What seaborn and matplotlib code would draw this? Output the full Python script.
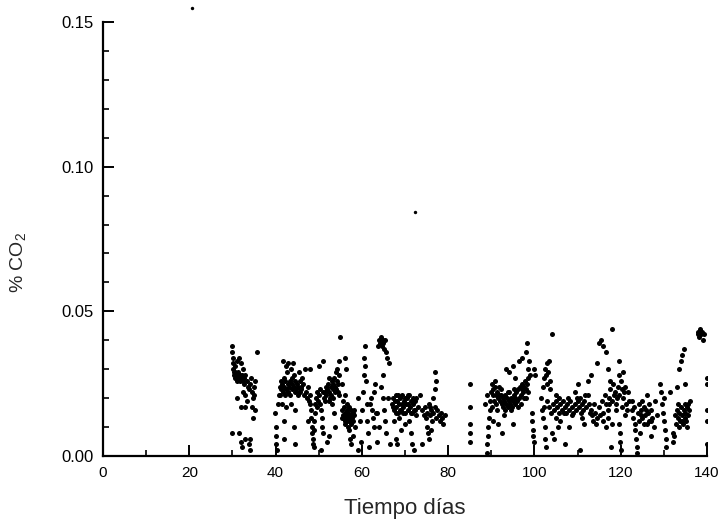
import matplotlib
matplotlib.use("Agg")
import matplotlib.pyplot as plt
from matplotlib.ticker import MultipleLocator, FormatStrFormatter
import seaborn as sns
import pandas as pd

# ---- data: (day, % CO2) ----
period_a = [(29.9, 0.038), (30.0, 0.036), (30.1, 0.034), (30.2, 0.032), (30.3, 0.029),
            (30.4, 0.028), (30.5, 0.027), (30.6, 0.028), (30.7, 0.029), (30.8, 0.027),
            (30.9, 0.028), (31.0, 0.027), (31.1, 0.026), (31.2, 0.028), (31.3, 0.027),
            (31.4, 0.029), (31.5, 0.028), (31.6, 0.027), (31.7, 0.026), (31.8, 0.028),
            (32.0, 0.027), (32.2, 0.028), (32.4, 0.026), (32.6, 0.027), (32.8, 0.025),
            (30.5, 0.031), (31.0, 0.033), (31.5, 0.034), (32.0, 0.032), (32.5, 0.030),
            (33.0, 0.028), (33.3, 0.026), (33.5, 0.024), (33.8, 0.023), (34.0, 0.025),
            (34.3, 0.027), (34.5, 0.022), (34.8, 0.020), (35.0, 0.024), (35.2, 0.026),
            (35.6, 0.036), (32.5, 0.022), (33.0, 0.021), (32.0, 0.017), (33.0, 0.017),
            (34.5, 0.017), (35.3, 0.016), (29.8, 0.008), (31.5, 0.008), (32.0, 0.005),
            (32.2, 0.003), (33.0, 0.006), (33.8, 0.004), (34.0, 0.002), (34.1, 0.006),
            (31.0, 0.020), (33.4, 0.019), (34.7, 0.013), (35.0, 0.021), (30.2, 0.030)]

period_b = [(39.8, 0.015), (40.0, 0.010), (40.2, 0.007), (40.1, 0.004), (40.3, 0.002),
            (40.5, 0.018), (40.8, 0.021), (41.0, 0.024), (41.2, 0.026), (41.3, 0.023),
            (41.5, 0.025), (41.7, 0.022), (41.9, 0.027), (42.0, 0.024), (42.2, 0.026),
            (42.4, 0.023), (42.5, 0.031), (42.7, 0.029), (42.9, 0.025), (43.0, 0.022),
            (43.2, 0.024), (43.4, 0.026), (43.5, 0.030), (43.7, 0.023), (43.9, 0.025),
            (44.0, 0.032), (44.2, 0.024), (44.4, 0.022), (44.6, 0.026), (44.8, 0.023),
            (45.0, 0.025), (45.2, 0.024), (45.4, 0.022), (45.6, 0.026), (45.8, 0.024),
            (46.0, 0.023), (46.3, 0.025), (46.5, 0.021), (41.5, 0.018), (42.5, 0.017),
            (43.5, 0.018), (44.5, 0.016), (41.8, 0.033), (43.0, 0.032), (45.5, 0.029),
            (46.8, 0.030), (42.0, 0.012), (44.2, 0.010), (44.4, 0.004), (42.0, 0.006),
            (41.1, 0.021), (41.6, 0.023), (42.1, 0.021), (42.8, 0.022), (43.3, 0.021),
            (43.8, 0.027), (44.3, 0.028), (45.1, 0.021), (45.7, 0.022), (46.2, 0.027)]

period_c = [(47.0, 0.022), (47.3, 0.020), (47.5, 0.024), (47.7, 0.019), (47.9, 0.021),
            (48.0, 0.018), (48.2, 0.016), (48.3, 0.013), (48.4, 0.010), (48.5, 0.008),
            (48.6, 0.006), (48.7, 0.004), (48.8, 0.009), (49.0, 0.012), (49.2, 0.015),
            (49.3, 0.020), (49.5, 0.017), (49.6, 0.022), (49.8, 0.019), (50.0, 0.021),
            (50.2, 0.023), (50.3, 0.018), (50.5, 0.016), (50.7, 0.013), (50.8, 0.010),
            (51.0, 0.008), (51.2, 0.020), (51.4, 0.022), (51.6, 0.024), (51.8, 0.021),
            (52.0, 0.023), (52.2, 0.025), (52.4, 0.022), (52.6, 0.020), (52.8, 0.024),
            (53.0, 0.026), (53.2, 0.023), (53.4, 0.025), (53.6, 0.027), (53.8, 0.024),
            (54.0, 0.029), (54.2, 0.026), (54.3, 0.030), (54.5, 0.022), (54.6, 0.033),
            (54.8, 0.028), (55.0, 0.041), (48.0, 0.030), (50.0, 0.031), (51.0, 0.033),
            (52.5, 0.027), (53.5, 0.015), (53.8, 0.010), (52.4, 0.007), (52.0, 0.005),
            (49.0, 0.003), (50.5, 0.002), (47.5, 0.012), (53.0, 0.018), (55.3, 0.025),
            (52.3, 0.019), (52.9, 0.021), (53.3, 0.020), (53.7, 0.022), (54.1, 0.023),
            (54.4, 0.025), (54.7, 0.021), (51.5, 0.019), (50.9, 0.022), (49.1, 0.018)]

period_d = [(55.5, 0.016), (55.7, 0.014), (55.9, 0.013), (56.0, 0.015), (56.2, 0.012),
            (56.4, 0.014), (56.5, 0.016), (56.7, 0.013), (56.9, 0.015), (57.0, 0.012),
            (57.2, 0.014), (57.4, 0.011), (57.5, 0.016), (57.7, 0.013), (57.9, 0.015),
            (58.0, 0.012), (58.2, 0.014), (55.6, 0.019), (56.0, 0.021), (56.5, 0.018),
            (57.0, 0.009), (57.3, 0.006), (57.5, 0.004), (56.3, 0.030), (56.0, 0.034),
            (58.5, 0.010), (59.0, 0.020), (59.5, 0.012), (59.8, 0.005), (60.0, 0.016),
            (60.3, 0.022), (60.5, 0.028), (60.6, 0.034), (60.7, 0.038), (60.8, 0.031),
            (61.0, 0.026), (61.2, 0.018), (61.3, 0.012), (61.5, 0.008), (61.6, 0.003),
            (62.0, 0.018), (62.2, 0.020), (62.4, 0.016), (62.5, 0.013), (62.7, 0.010),
            (62.9, 0.022), (63.0, 0.025), (63.2, 0.015), (63.4, 0.005), (59.0, 0.002),
            (58.0, 0.007), (55.8, 0.017), (56.1, 0.011), (56.6, 0.012), (57.1, 0.017),
            (57.6, 0.012), (58.1, 0.016), (56.8, 0.010), (55.4, 0.013)]

period_e = [(63.8, 0.038), (64.0, 0.040), (64.2, 0.039), (64.4, 0.041), (64.6, 0.038),
            (64.8, 0.040), (65.0, 0.039), (65.2, 0.037), (65.4, 0.040), (65.5, 0.036),
            (65.8, 0.034), (66.2, 0.032), (64.5, 0.024), (64.8, 0.028), (65.0, 0.020),
            (65.2, 0.016), (65.4, 0.012), (65.5, 0.008), (66.0, 0.020), (66.5, 0.004),
            (63.6, 0.015), (63.9, 0.010)]

period_f = [(67.0, 0.018), (67.2, 0.020), (67.4, 0.016), (67.6, 0.019), (67.8, 0.021),
            (68.0, 0.017), (68.2, 0.019), (68.4, 0.015), (68.6, 0.018), (68.8, 0.020),
            (69.0, 0.016), (69.2, 0.018), (69.4, 0.021), (69.6, 0.017), (69.8, 0.019),
            (70.0, 0.015), (70.2, 0.018), (70.4, 0.020), (70.6, 0.016), (70.8, 0.018),
            (71.0, 0.021), (71.2, 0.017), (71.4, 0.019), (71.6, 0.015), (71.8, 0.018),
            (72.0, 0.016), (72.3, 0.019), (72.6, 0.014), (73.0, 0.017), (67.5, 0.012),
            (68.5, 0.013), (69.0, 0.009), (68.0, 0.006), (68.2, 0.004), (70.0, 0.011),
            (71.0, 0.012), (71.5, 0.008), (71.7, 0.004), (72.0, 0.002), (72.5, 0.020),
            (73.5, 0.021), (74.0, 0.016), (74.3, 0.014), (74.6, 0.017), (74.9, 0.013),
            (75.2, 0.015), (75.5, 0.018), (75.8, 0.014), (76.0, 0.016), (76.3, 0.012),
            (76.6, 0.015), (76.9, 0.017), (77.2, 0.013), (77.5, 0.016), (77.8, 0.014),
            (78.0, 0.012), (78.3, 0.015), (78.6, 0.013), (78.9, 0.011), (79.2, 0.014),
            (76.5, 0.020), (77.0, 0.023), (77.2, 0.026), (77.0, 0.029), (75.0, 0.010),
            (75.3, 0.008), (75.5, 0.006), (76.0, 0.009), (74.0, 0.004), (67.3, 0.017),
            (67.9, 0.015), (68.3, 0.021), (68.9, 0.016), (69.5, 0.015), (70.1, 0.020),
            (70.7, 0.021), (71.3, 0.015), (71.9, 0.020), (72.4, 0.016), (75.9, 0.017)]

period_g = [(85.0, 0.025), (85.0, 0.017), (85.0, 0.011), (85.0, 0.008), (85.0, 0.005)]

period_h = [(89.0, 0.001), (89.1, 0.004), (89.2, 0.007), (89.3, 0.010), (89.5, 0.013),
            (89.6, 0.016), (89.8, 0.019), (90.0, 0.022), (90.2, 0.025), (90.3, 0.021),
            (90.5, 0.023), (90.7, 0.019), (90.9, 0.024), (91.0, 0.021), (91.2, 0.018),
            (91.4, 0.022), (91.6, 0.020), (91.8, 0.024), (92.0, 0.019), (92.2, 0.021),
            (92.4, 0.018), (92.6, 0.020), (92.8, 0.017), (93.0, 0.019), (93.2, 0.021),
            (93.4, 0.018), (93.6, 0.020), (93.8, 0.017), (94.0, 0.019), (94.2, 0.022),
            (94.4, 0.018), (94.6, 0.020), (94.8, 0.017), (95.0, 0.019), (95.2, 0.021),
            (95.4, 0.018), (95.6, 0.020), (95.8, 0.022), (96.0, 0.019), (96.2, 0.023),
            (96.4, 0.020), (96.6, 0.024), (96.8, 0.021), (97.0, 0.023), (97.2, 0.025),
            (97.4, 0.022), (97.6, 0.024), (97.8, 0.026), (98.0, 0.023), (98.2, 0.025),
            (98.4, 0.022), (98.6, 0.027), (93.5, 0.030), (94.0, 0.029), (95.0, 0.031),
            (95.5, 0.027), (96.5, 0.033), (97.0, 0.034), (98.0, 0.036), (98.5, 0.030),
            (98.8, 0.033), (99.0, 0.028), (90.5, 0.012), (91.5, 0.011), (92.5, 0.008),
            (93.0, 0.014), (95.0, 0.011), (99.5, 0.012), (99.6, 0.009), (99.7, 0.007),
            (99.8, 0.005), (99.4, 0.015), (100.0, 0.030), (100.2, 0.028), (88.5, 0.018),
            (89.0, 0.021), (98.3, 0.039), (90.1, 0.017), (90.8, 0.026), (91.3, 0.016),
            (91.9, 0.021), (92.3, 0.023), (93.1, 0.016), (93.9, 0.022), (94.5, 0.016),
            (95.3, 0.023), (96.1, 0.017), (96.9, 0.018), (97.5, 0.020), (98.1, 0.020)]

period_i = [(101.5, 0.020), (101.8, 0.016), (102.0, 0.013), (102.2, 0.017), (102.4, 0.010),
            (102.5, 0.006), (102.6, 0.003), (102.0, 0.024), (102.2, 0.027), (102.4, 0.030),
            (102.6, 0.028), (102.8, 0.032), (103.0, 0.025), (103.2, 0.029), (103.4, 0.033),
            (103.5, 0.026), (103.6, 0.023), (104.0, 0.042), (103.0, 0.019), (103.4, 0.017),
            (103.8, 0.015), (104.2, 0.018), (104.6, 0.016), (105.0, 0.019), (105.3, 0.017),
            (105.6, 0.015), (106.0, 0.018), (106.3, 0.016), (106.6, 0.019), (107.0, 0.017),
            (107.3, 0.015), (107.6, 0.018), (108.0, 0.016), (108.3, 0.019), (108.6, 0.017),
            (109.0, 0.015), (109.3, 0.018), (109.6, 0.016), (110.0, 0.019), (110.3, 0.017),
            (110.6, 0.020), (111.0, 0.018), (111.3, 0.016), (111.6, 0.019), (112.0, 0.017),
            (112.3, 0.021), (112.6, 0.018), (113.0, 0.016), (113.3, 0.014), (113.6, 0.012),
            (114.0, 0.015), (114.3, 0.011), (114.6, 0.013), (104.0, 0.008), (104.5, 0.006),
            (105.5, 0.010), (107.0, 0.004), (108.0, 0.010), (109.5, 0.022), (110.0, 0.025),
            (111.0, 0.013), (111.5, 0.011), (112.5, 0.026), (113.0, 0.028), (105.0, 0.013),
            (106.0, 0.012), (110.5, 0.002), (104.9, 0.021), (105.8, 0.020), (106.8, 0.015),
            (107.8, 0.020), (108.8, 0.014), (109.8, 0.020), (110.8, 0.015), (111.8, 0.021),
            (112.8, 0.015), (113.8, 0.018)]

period_j = [(115.0, 0.017), (115.3, 0.014), (115.6, 0.019), (116.0, 0.015), (116.3, 0.021),
            (116.6, 0.018), (117.0, 0.016), (117.3, 0.020), (117.6, 0.023), (118.0, 0.019),
            (118.3, 0.025), (118.6, 0.022), (119.0, 0.018), (119.3, 0.024), (119.6, 0.021),
            (120.0, 0.026), (120.3, 0.023), (120.6, 0.020), (121.0, 0.024), (121.3, 0.018),
            (121.6, 0.022), (122.0, 0.019), (116.0, 0.012), (116.5, 0.010), (117.0, 0.013),
            (118.0, 0.011), (117.5, 0.026), (119.5, 0.028), (120.5, 0.029), (115.0, 0.039),
            (115.5, 0.040), (116.0, 0.038), (116.5, 0.036), (117.0, 0.030), (118.0, 0.044),
            (119.5, 0.033), (119.8, 0.008), (119.9, 0.005), (119.7, 0.011), (120.0, 0.002),
            (114.5, 0.032), (121.0, 0.014), (117.8, 0.003), (118.8, 0.016), (119.2, 0.020),
            (120.2, 0.017), (120.8, 0.022), (121.5, 0.016), (118.4, 0.021), (117.2, 0.018)]

period_k = [(122.5, 0.016), (122.8, 0.013), (123.0, 0.017), (123.2, 0.011), (123.4, 0.009),
            (123.6, 0.006), (123.7, 0.003), (123.8, 0.001), (124.0, 0.015), (124.3, 0.012),
            (124.6, 0.016), (125.0, 0.013), (125.3, 0.017), (125.6, 0.014), (126.0, 0.011),
            (126.3, 0.015), (126.6, 0.012), (127.0, 0.016), (127.3, 0.013), (127.6, 0.010),
            (125.0, 0.019), (126.0, 0.021), (124.5, 0.008), (127.0, 0.007), (128.0, 0.019),
            (128.5, 0.014), (129.2, 0.025), (129.4, 0.022), (129.6, 0.018), (129.8, 0.015),
            (130.0, 0.012), (130.2, 0.009), (130.4, 0.006), (130.5, 0.003), (130.0, 0.020),
            (131.5, 0.022), (124.2, 0.018), (124.8, 0.014), (125.4, 0.011), (125.9, 0.016),
            (126.5, 0.018), (127.1, 0.012), (122.6, 0.019)]

period_l = [(132.5, 0.014), (132.8, 0.011), (133.0, 0.016), (133.2, 0.013), (133.4, 0.010),
            (133.6, 0.015), (133.8, 0.012), (134.0, 0.017), (134.2, 0.014), (134.4, 0.011),
            (134.6, 0.016), (134.8, 0.013), (135.0, 0.015), (135.2, 0.012), (135.4, 0.017),
            (135.6, 0.014), (135.8, 0.016), (132.0, 0.008), (132.2, 0.005), (132.4, 0.007),
            (133.0, 0.024), (133.5, 0.030), (134.0, 0.033), (134.3, 0.035), (134.6, 0.037),
            (135.0, 0.025), (135.5, 0.018), (136.0, 0.019), (137.8, 0.042), (138.0, 0.043),
            (138.2, 0.041), (138.4, 0.044), (138.6, 0.042), (138.8, 0.043), (139.0, 0.040),
            (139.2, 0.042), (140.0, 0.027), (140.0, 0.025), (140.0, 0.016), (140.0, 0.012),
            (140.0, 0.004), (133.3, 0.018), (134.1, 0.012), (134.9, 0.018), (135.3, 0.010)]

outliers = [(20.6, 0.155), (72.3, 0.0843)]

x_ticks = [0, 20, 40, 60, 80, 100, 120, 140]
y_ticks = [0.00, 0.05, 0.10, 0.15]
x_label = "Tiempo días"
y_label = "% CO$_2$"

# ---- build table ----
all_points = (period_a + period_b + period_c + period_d + period_e + period_f +
              period_g + period_h + period_i + period_j + period_k + period_l)
df = pd.DataFrame(all_points, columns=["day", "co2"])
df_out = pd.DataFrame(outliers, columns=["day", "co2"])

sns.set_style("white")
plt.rcParams["font.family"] = ["Liberation Sans", "DejaVu Sans"]
plt.rcParams["mathtext.fontset"] = "custom"
plt.rcParams["mathtext.rm"] = "Liberation Sans"

fig = plt.figure(figsize=(7.2, 5.19), dpi=100)
ax = fig.add_axes([0.143, 0.1214, 0.839, 0.8362])

sns.scatterplot(data=df, x="day", y="co2", ax=ax, color="black", s=13,
                linewidth=0, marker="o", legend=False)
sns.scatterplot(data=df_out, x="day", y="co2", ax=ax, color="black", s=6,
                linewidth=0, marker="o", legend=False, clip_on=False)

ax.set_xlim(0, 140)
ax.set_ylim(0, 0.15)
ax.set_xticks(x_ticks)
ax.set_yticks(y_ticks)
ax.xaxis.set_minor_locator(MultipleLocator(10))
ax.yaxis.set_minor_locator(MultipleLocator(0.01))
ax.yaxis.set_major_formatter(FormatStrFormatter("%.2f"))

for side in ["top", "right"]:
    ax.spines[side].set_visible(False)
for side in ["left", "bottom"]:
    ax.spines[side].set_linewidth(1.6)
    ax.spines[side].set_color("black")

ax.tick_params(axis="both", which="both", bottom=True, left=True, top=False, right=False)
ax.tick_params(axis="both", which="major", direction="in", length=8, width=1.4,
               colors="black", pad=7)
ax.tick_params(axis="both", which="minor", direction="in", length=4, width=1.2,
               colors="black")
ax.tick_params(axis="x", which="major", labelsize=11)
ax.tick_params(axis="y", which="major", labelsize=12)

ax.set_xlabel(x_label, fontsize=16, va="center")
ax.set_ylabel(y_label, fontsize=14)
ax.xaxis.set_label_coords(0.50, -0.12)
ax.yaxis.set_label_coords(-0.1225, 0.447)

fig.savefig("out.png", dpi=100)
